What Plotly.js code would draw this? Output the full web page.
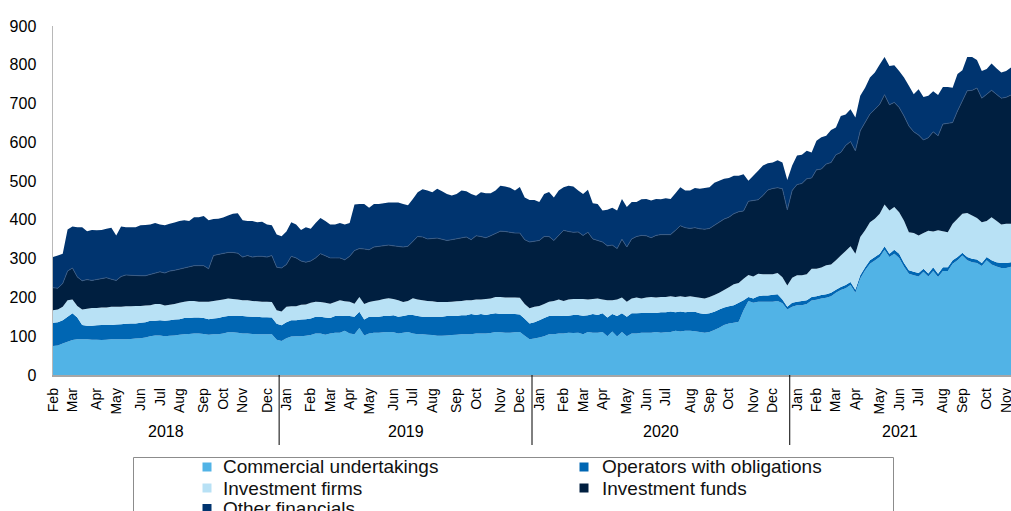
<!DOCTYPE html>
<html>
<head>
<meta charset="utf-8">
<script src="https://cdn.plot.ly/plotly-3.0.1.min.js"></script>
<style>
html,body{margin:0;padding:0;background:#fff;}
#chart{width:1011px;height:511px;}
</style>
</head>
<body>
<div id="chart"></div>
<script>
// ---------- DATA ----------
const firstWeek = '2018-02-01';   // weekly observations
const monthNames = ['Jan','Feb','Mar','Apr','May','Jun','Jul','Aug','Sep','Oct','Nov','Dec'];
const seriesNames = ['Commercial undertakings','Operators with obligations','Investment firms','Investment funds','Other financials'];

const commercial = [
75,76,81,86,90,92,92,92,91,91,
90,91,92,92,92,92,93,94,95,97,
100,102,102,100,101,102,104,105,106,107,
107,106,104,105,105,107,110,110,109,107,
107,106,105,105,105,105,91,88,95,99,
100,100,101,103,107,107,104,107,109,109,
114,107,105,121,102,107,109,109,110,111,
110,107,109,111,107,105,105,104,103,101,
101,102,103,104,105,105,105,107,107,107,
108,111,110,109,109,110,111,101,92,94,
97,100,105,105,107,107,109,108,109,105,
111,109,109,111,100,112,99,111,100,107,
107,109,109,109,111,109,110,111,114,112,
114,114,113,111,109,111,116,122,129,133,
135,137,167,191,186,189,189,189,189,191,
185,169,176,180,180,183,192,194,197,199,
203,212,219,224,232,212,249,270,287,295,
304,323,304,313,302,279,261,257,254,266,
254,268,253,268,268,287,296,308,296,291,
289,281,296,285,280,276,276,279];

const operators = [
60,60,60,64,69,56,37,35,36,37,
39,38,37,38,39,40,40,39,40,39,
40,38,39,40,40,41,40,42,41,41,
41,41,40,41,42,43,42,43,44,45,
44,44,45,44,44,43,41,40,41,42,
41,43,43,43,43,43,44,40,43,44,
38,45,45,42,41,43,41,41,42,41,
44,43,43,44,48,47,45,46,47,49,
49,50,49,48,49,49,52,48,50,48,
49,48,47,48,48,47,45,44,41,42,
44,47,47,48,46,45,44,47,46,48,
43,48,46,48,48,45,53,48,50,52,
52,51,51,51,49,53,52,53,48,52,
48,49,50,48,48,48,47,47,45,44,
45,49,26,10,11,14,16,16,18,17,
10,7,10,9,11,10,9,9,9,9,
9,8,8,8,8,8,8,8,9,9,
9,9,9,10,11,10,9,9,9,8,
8,10,8,10,10,9,8,7,8,9,
9,8,8,11,11,13,13,12];

const investmentFirms = [
32,33,35,43,36,30,40,44,46,45,
45,45,47,46,45,45,44,45,43,43,
40,43,42,39,40,40,42,42,44,43,
41,42,45,45,46,45,45,43,42,41,
42,41,40,40,40,40,35,36,40,36,
36,38,38,40,39,38,38,37,36,40,
38,37,34,38,40,38,41,43,44,46,
42,43,36,36,43,43,43,41,40,38,
38,36,37,38,37,39,36,40,38,41,
40,42,44,43,43,43,43,38,39,40,
37,36,37,38,42,39,42,41,41,43,
41,39,42,36,45,36,43,41,39,38,
41,37,40,41,40,39,39,39,39,39,
39,40,38,40,40,42,43,43,45,49,
54,51,55,57,57,58,55,55,53,55,
57,55,65,68,66,67,73,71,71,75,
73,76,81,88,92,93,99,95,98,99,
103,108,111,110,107,109,98,100,97,92,
110,92,112,93,90,94,99,101,114,111,
107,105,93,111,107,99,101,99];

const investmentFunds = [
58,55,60,75,81,75,74,75,71,74,
75,77,71,68,78,81,80,78,78,77,
80,80,83,84,87,87,87,88,89,91,
93,93,85,117,118,119,119,120,119,111,
115,113,116,117,115,120,111,112,109,129,
125,113,109,108,113,125,122,118,114,109,
107,117,137,125,142,135,139,139,137,137,
137,139,142,141,147,162,163,160,162,165,
162,159,160,161,163,163,156,164,162,158,
162,165,170,170,168,166,167,166,171,170,
169,174,168,156,165,182,175,172,173,164,
173,155,150,148,140,142,131,150,141,154,
157,163,159,153,160,161,161,159,172,182,
179,175,179,178,179,177,180,182,183,181,
182,184,175,190,196,191,203,217,221,220,
228,195,225,234,237,246,234,255,254,261,
263,272,266,272,270,265,274,278,279,282,
282,283,273,270,270,270,274,261,259,240,
240,257,244,276,281,261,278,291,315,323,
335,320,327,327,326,326,326,332];

const otherFinancials = [
79,84,77,107,107,128,138,125,130,126,
125,126,133,116,129,123,124,125,130,131,
128,129,122,123,122,123,124,122,117,125,
125,128,125,94,92,92,95,100,103,95,
89,93,88,89,84,78,84,82,85,88,
86,80,90,83,90,92,89,86,86,90,
91,86,119,115,116,108,111,109,110,110,
112,113,111,106,109,114,123,125,119,127,
124,120,114,116,122,118,118,103,114,115,
110,110,117,116,115,110,119,109,108,105,
99,110,115,111,116,111,118,118,107,107,
110,92,94,81,93,96,98,104,103,95,
89,93,95,96,94,91,94,92,96,99,
96,98,102,103,106,106,110,107,104,101,
98,93,95,53,64,75,77,69,67,71,
68,77,64,75,74,72,66,75,82,73,
84,70,94,80,83,86,90,90,94,95,
103,97,100,96,94,99,104,97,118,111,
108,105,105,96,94,90,95,79,87,86,
72,70,65,69,67,66,68,71];

// ---------- STYLE ----------
const seriesColors = ['#51B3E6','#0066B3','#B8E1F5','#001F40','#00346F'];
const FONT = 'Liberation Sans, Arial, sans-serif';

// plot-area pixel geometry
const PL = 53, PR = 1011, PT = 26, PB = 375;
const W = 1011, H = 511;
const fx = px => (px - PL) / (PR - PL);
const fy = py => (PB - py) / (PB - PT);

// ---------- X CATEGORIES (weekly dates) ----------
const DAY = 86400000;
const n = commercial.length;
const t0 = Date.parse(firstWeek + 'T00:00:00Z');
const times = [], dates = [];
for (let i = 0; i < n; i++) {
  const t = t0 + i * 7 * DAY;
  times.push(t);
  dates.push(new Date(t).toISOString().slice(0, 10));
}
const tFrac = t => (t - times[0]) / (times[n - 1] - times[0]);

const tickvals = [], ticktext = [];
const yearBounds = [times[0]];
const years = [new Date(times[0]).getUTCFullYear()];
for (let i = 0; i < n; i++) {
  const d = new Date(times[i]);
  if (i === 0 || d.getUTCMonth() !== new Date(times[i - 1]).getUTCMonth()) {
    tickvals.push(dates[i]);
    ticktext.push(monthNames[d.getUTCMonth()]);
  }
  if (i > 1 && d.getUTCFullYear() !== new Date(times[i - 1]).getUTCFullYear()) {
    yearBounds.push((times[i - 2] + times[i - 1]) / 2);
    years.push(d.getUTCFullYear());
  }
}
yearBounds.push(times[n - 1]);

// ---------- TRACES ----------
const allSeries = [commercial, operators, investmentFirms, investmentFunds, otherFinancials];
const traces = allSeries.map((vals, k) => ({
  type: 'scatter',
  x: dates,
  y: vals,
  name: seriesNames[k],
  stackgroup: 'one',
  mode: k === 3 ? 'lines' : 'none',
  line: k === 3 ? {color: '#3a5a84', width: 0.8} : {width: 0},
  fillcolor: seriesColors[k],
  showlegend: false,
  hoverinfo: 'skip'
}));

// ---------- SHAPES & ANNOTATIONS ----------
const shapes = [];
const annotations = [];

// year separators
for (let j = 1; j < yearBounds.length - 1; j++) {
  const x = tFrac(yearBounds[j]);
  shapes.push({type: 'line', xref: 'paper', yref: 'paper', x0: x, x1: x,
    y0: 0, y1: fy(445), line: {color: '#000', width: 1}});
}
// year labels
for (let j = 0; j < years.length; j++) {
  const xc = (tFrac(yearBounds[j]) + tFrac(yearBounds[j + 1])) / 2;
  annotations.push({xref: 'paper', yref: 'paper', x: xc, y: fy(432),
    text: String(years[j]), showarrow: false, xanchor: 'center', yanchor: 'middle',
    font: {family: FONT, size: 16, color: '#000'}});
}

// legend (two columns)
shapes.push({type: 'rect', xref: 'paper', yref: 'paper',
  x0: fx(133.5), x1: fx(893.5), y0: fy(457.5), y1: fy(540),
  line: {color: '#8c8c8c', width: 1}, fillcolor: 'rgba(0,0,0,0)'});
const legCols = [{mx: 207, tx: 221}, {mx: 584, tx: 600}];
const legRows = [467, 488, 508.5];
seriesNames.forEach((name, k) => {
  const c = legCols[k % 2], r = legRows[Math.floor(k / 2)];
  shapes.push({type: 'rect', xref: 'paper', yref: 'paper',
    x0: fx(c.mx - 4.5), x1: fx(c.mx + 4.5), y0: fy(r + 4.5), y1: fy(r - 4.5),
    line: {width: 0}, fillcolor: seriesColors[k]});
  annotations.push({xref: 'paper', yref: 'paper', x: fx(c.tx), y: fy(r),
    text: name, showarrow: false, xanchor: 'left', yanchor: 'middle',
    font: {family: FONT, size: 19, color: '#111'}});
});

// ---------- LAYOUT ----------
const layout = {
  width: W, height: H,
  margin: {l: PL, r: W - PR, t: PT, b: H - PB},
  paper_bgcolor: '#fff', plot_bgcolor: '#fff',
  font: {family: FONT, color: '#000'},
  showlegend: false,
  hovermode: false,
  xaxis: {
    type: 'date',
    range: [dates[0], dates[n - 1]],
    tickmode: 'array', tickvals: tickvals, ticktext: ticktext,
    tickangle: -90,
    tickfont: {family: FONT, size: 14, color: '#000'},
    ticks: '', ticklabelstandoff: 6,
    ticklabeloverflow: 'allow',
    showgrid: false, zeroline: false,
    showline: true, linecolor: '#a6a6a6', linewidth: 1.5
  },
  yaxis: {
    range: [0, 900],
    tickmode: 'array', tickvals: [0,100,200,300,400,500,600,700,800,900],
    tickfont: {family: FONT, size: 16, color: '#000'},
    ticks: '', ticklabelstandoff: 12,
    showgrid: false, zeroline: false,
    showline: true, linecolor: '#b8b8b8', linewidth: 1.5
  },
  shapes: shapes,
  annotations: annotations
};

Plotly.newPlot('chart', traces, layout, {staticPlot: true, displayModeBar: false});
</script>
</body>
</html>
